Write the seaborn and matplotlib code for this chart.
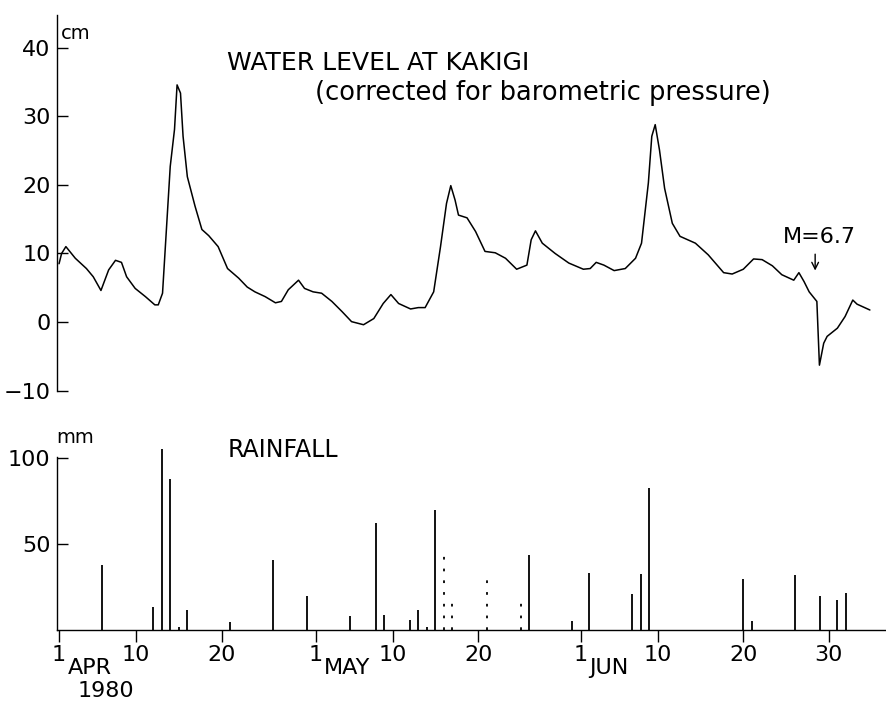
import matplotlib
matplotlib.use("Agg")
import matplotlib.pyplot as plt
import seaborn as sns
import pandas as pd

# water level at Kakigi, x = days since 1 Apr 1980
level_day = [0.0, 0.3, 0.8, 1.9, 3.2, 4.0, 4.9, 5.8, 6.6, 7.3, 7.9, 8.9, 10.1, 11.2, 11.6,
             12.1, 13.0, 13.5, 13.8, 14.2, 14.5, 15.0, 15.9, 16.7, 17.5, 18.6, 19.7, 21.0,
             22.0, 22.9, 24.1, 25.3, 26.0, 26.8, 28.0, 28.7, 29.7, 30.7, 31.9, 33.1, 34.2,
             35.6, 36.8, 37.9, 38.8, 39.7, 41.1, 42.0, 42.8, 43.8, 44.6, 45.3, 45.8, 46.3,
             46.7, 47.7, 48.7, 49.8, 51.0, 52.2, 53.5, 54.7, 55.2, 55.7, 56.5, 58.0, 59.6,
             61.3, 62.1, 62.8, 63.7, 64.9, 66.2, 67.4, 68.1, 68.9, 69.3, 69.7, 70.2, 70.8,
             71.7, 72.6, 74.4, 75.9, 77.7, 78.7, 80.0, 81.2, 82.2, 83.4, 84.5, 85.9, 86.5,
             87.1, 87.7, 88.6, 88.9, 89.4, 89.8, 91.0, 91.9, 92.8, 93.3, 94.8]
level_cm = [8.5, 10.0, 11.0, 9.3, 7.8, 6.6, 4.6, 7.6, 9.0, 8.7, 6.6, 4.9, 3.7, 2.5, 2.5,
            4.2, 22.7, 28.1, 34.6, 33.4, 27.1, 21.2, 16.9, 13.5, 12.6, 11.0, 7.8, 6.4,
            5.1, 4.4, 3.7, 2.8, 3.0, 4.7, 6.1, 4.9, 4.4, 4.2, 3.0, 1.5, 0.05,
            -0.4, 0.5, 2.7, 4.0, 2.7, 1.9, 2.1, 2.1, 4.4, 11.0, 17.3, 19.9, 17.8,
            15.6, 15.2, 13.2, 10.3, 10.1, 9.3, 7.7, 8.3, 12.0, 13.3, 11.5, 10.0, 8.6,
            7.7, 7.8, 8.7, 8.3, 7.5, 7.8, 9.3, 11.5, 20.3, 27.1, 28.8, 25.1, 19.5,
            14.4, 12.5, 11.5, 9.8, 7.2, 7.0, 7.7, 9.2, 9.1, 8.2, 6.9, 6.1, 7.2,
            5.9, 4.4, 3.0, -6.3, -3.1, -2.1, -0.9, 0.8, 3.2, 2.6, 1.75]

# daily rainfall (mm)
rain_day = [5, 11, 12, 13, 14, 15, 20, 25, 29, 34, 37, 38, 41, 42, 43, 44, 45, 46, 50,
            54, 55, 60, 62, 67, 68, 69, 80, 81, 86, 89, 91, 92]
rain_mm = [38, 13.5, 105, 87.5, 2, 11.5, 4.5, 40.5, 19.5, 8, 62, 8.5, 6, 11.5, 2, 69.5,
           46.5, 20, 32, 20, 43.5, 5.5, 33, 21, 32.5, 82.5, 29.5, 5.5, 32, 20, 17.5, 21.5]
# bars that came out broken in the print
rain_faint = [False] * 16 + [True, True, True, True] + [False] * 12

tick_day = [0, 9, 19, 30, 39, 49, 61, 70, 80, 90]
tick_label = ["1", "10", "20", "1", "10", "20", "1", "10", "20", "30"]
month_day = [0, 30, 61]
month_label = ["APR", "MAY", "JUN"]

sns.set_theme(style="ticks")
plt.rcParams["font.family"] = ["DejaVu Sans"]
plt.rcParams.update({"axes.linewidth": 1.0, "axes.edgecolor": "black",
                     "text.color": "black", "xtick.color": "black",
                     "ytick.color": "black", "xtick.labelcolor": "black",
                     "ytick.labelcolor": "black"})

fig = plt.figure(figsize=(8.87, 7.03), dpi=100)
W, H = 887, 703
ax1 = fig.add_axes([57.5 / W, 1 - 391.2 / H, 829.5 / W, 376.2 / H])
ax2 = fig.add_axes([57.5 / W, 1 - 630 / H, 829.5 / W, 185.8 / H])

# water level
df = pd.DataFrame({"day": level_day, "cm": level_cm})
sns.lineplot(data=df, x="day", y="cm", ax=ax1, color="black", lw=1.1)
ax1.set_xlim(-0.18, 96.8)
ax1.set_ylim(-10.1, 44.8)
sns.despine(ax=ax1, bottom=True)
ax1.set_xticks([])
ax1.set_xlabel("")
ax1.set_ylabel("")
ax1.set_yticks([-10, 0, 10, 20, 30, 40])
ax1.tick_params(axis="y", direction="in", length=8, width=1, labelsize=16, pad=5)
ax1.text(0.004, 0.952, "cm", transform=ax1.transAxes, fontsize=14, ha="left", va="center")
ax1.text(0.2043, 0.8724, "WATER LEVEL AT KAKIGI", transform=ax1.transAxes,
         fontsize=18, ha="left", va="center")
ax1.text(0.3104, 0.7927, "(corrected for barometric pressure)", transform=ax1.transAxes,
         fontsize=18.5, ha="left", va="center")
ax1.text(88.9, 12.4, "M=6.7", fontsize=16, ha="center", va="center")
ax1.annotate("", xy=(88.4, 7.1), xytext=(88.4, 10.3),
             arrowprops=dict(arrowstyle="->", lw=1, color="black"))

# rainfall
solid = [i for i, f in enumerate(rain_faint) if not f]
faint = [i for i, f in enumerate(rain_faint) if f]
ax2.vlines([rain_day[i] for i in solid], 0, [rain_mm[i] for i in solid],
           color="black", lw=1.3)
ax2.vlines([rain_day[i] for i in faint], 0, [rain_mm[i] for i in faint],
           color="black", lw=1.3, linestyles=(0, (1.5, 5)))
ax2.set_xlim(-0.18, 96.8)
ax2.set_ylim(0, 108)
sns.despine(ax=ax2)
ax2.spines["left"].set_bounds(0, 100.5)
ax2.set_yticks([50, 100])
ax2.tick_params(axis="y", direction="in", length=8, width=1, labelsize=16, pad=5)
ax2.set_xticks(tick_day, tick_label)
ax2.tick_params(axis="x", direction="out", length=8.5, width=1, labelsize=16, pad=2)
ax2.text(-0.002, 1.035, "mm", transform=ax2.transAxes, fontsize=14, ha="left", va="center")
ax2.text(0.2055, 0.969, "RAINFALL", transform=ax2.transAxes, fontsize=17,
         ha="left", va="center")
for d, m in zip(month_day, month_label):
    ax2.annotate(m, xy=(d, 0), xycoords=("data", "axes fraction"), xytext=(6, -20),
                 textcoords="offset points", ha="left", va="top", fontsize=16)
ax2.annotate("1980", xy=(0, 0), xycoords=("data", "axes fraction"), xytext=(13, -37),
             textcoords="offset points", ha="left", va="top", fontsize=16)

fig.savefig("out.png", dpi=100)
